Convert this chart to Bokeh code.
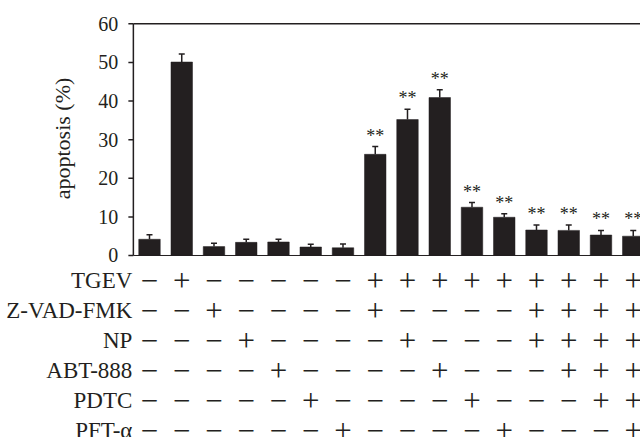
import math
from bokeh.plotting import figure
from bokeh.models import ColumnDataSource, Range1d, Whisker, TeeHead
from bokeh.core.properties import value
from bokeh.embed import file_html
from bokeh.resources import INLINE

# ---- data ----
apoptosis = [4.2, 50.1, 2.3, 3.4, 3.5, 2.2, 2.0, 26.2, 35.2, 40.9, 12.5, 9.9, 6.6, 6.5, 5.3, 5.0]
error = [1.2, 2.1, 0.9, 0.8, 0.7, 0.7, 1.0, 2.0, 2.7, 2.0, 1.2, 0.9, 1.3, 1.4, 1.2, 1.5]
significance = ["", "", "", "", "", "", "", "**", "**", "**", "**", "**", "**", "**", "**", "**"]
y_ticks = [0, 10, 20, 30, 40, 50, 60]
y_label = "apoptosis (%)"
treatments = ["TGEV", "Z-VAD-FMK", "NP", "ABT-888", "PDTC", "PFT-α"]
tgev      = ["−", "+", "−", "−", "−", "−", "−", "+", "+", "+", "+", "+", "+", "+", "+", "+"]
zvad_fmk  = ["−", "−", "+", "−", "−", "−", "−", "+", "−", "−", "−", "−", "+", "+", "+", "+"]
np_       = ["−", "−", "−", "+", "−", "−", "−", "−", "+", "−", "−", "−", "+", "+", "+", "+"]
abt_888   = ["−", "−", "−", "−", "+", "−", "−", "−", "−", "+", "−", "−", "−", "+", "+", "+"]
pdtc      = ["−", "−", "−", "−", "−", "+", "−", "−", "−", "−", "+", "−", "−", "−", "+", "+"]
pft_alpha = ["−", "−", "−", "−", "−", "−", "+", "−", "−", "−", "−", "+", "−", "−", "−", "+"]
sign_rows = [tgev, zvad_fmk, np_, abt_888, pdtc, pft_alpha]

INK = "#231f20"
SERIF = "Liberation Serif"

n = len(apoptosis)
xs = list(range(n))
upper = [v + e for v, e in zip(apoptosis, error)]
y_min, y_max = y_ticks[0], y_ticks[-1]
axis_x = -0.5          # left edge of the plotting area, in category units
x_end = n - 1 + 0.225  # chart is cut at the right edge as in the original

p = figure(width=640, height=437, output_backend="svg", toolbar_location=None,
           x_range=Range1d(-4.62, x_end), y_range=Range1d(-47.13, 66.03),
           x_axis_location=None, y_axis_location=None,
           min_border_left=0, min_border_right=0, min_border_top=0, min_border_bottom=0)
p.outline_line_color = None
p.grid.visible = False
p.background_fill_color = "white"
p.border_fill_color = "white"

# ---- hand-drawn axis frame ----
p.segment(x0=[axis_x], y0=[y_min], x1=[axis_x], y1=[y_max], line_color=INK, line_width=1.5)
p.segment(x0=[axis_x, axis_x], y0=[y_max, y_min], x1=[x_end, x_end], y1=[y_max, y_min],
          line_color=INK, line_width=[1.5, 1])
p.ray(x=[axis_x] * len(y_ticks), y=y_ticks, length=5, length_units="screen", angle=math.pi,
      line_color=INK, line_width=1.5)
p.text(x=[axis_x] * len(y_ticks), y=y_ticks, text=[str(t) for t in y_ticks], x_offset=-15,
       text_align="right", text_baseline="middle", text_font=value(SERIF),
       text_font_size="20px", text_color=INK)
p.text(x=[axis_x], y=[(y_min + y_max) / 2 + 0.3], text=[y_label], x_offset=-71, angle=math.pi / 2,
       text_align="center", text_baseline="middle", text_font=value(SERIF),
       text_font_size="22px", text_color=INK)

# ---- bars, error bars, significance ----
src = ColumnDataSource(dict(x=xs, top=apoptosis, upper=upper, sig=significance))
p.vbar(x="x", top="top", bottom=0, width=0.667, source=src,
       fill_color=INK, line_color=INK, line_width=0.5)
p.add_layout(Whisker(base="x", lower="top", upper="upper", source=src, dimension="height",
                     line_color=INK, line_width=1.5, lower_head=None,
                     upper_head=TeeHead(size=6, line_color=INK, line_width=1.5)))
p.text(x="x", y="upper", text="sig", source=src, text_align="center",
       text_baseline="alphabetic", y_offset=-11, text_font=value(SERIF),
       text_font_size="18px", text_color=INK)

# ---- treatment sign table ----
row_y = [-6.5 - 7.75 * i for i in range(len(treatments))]
tx, ty, tt = [], [], []
for yy, row in zip(row_y, sign_rows):
    for j, s in enumerate(row):
        tx.append(j)
        ty.append(yy)
        tt.append(s)
p.text(x=tx, y=ty, text=tt, text_align="center", text_baseline="middle",
       text_font=value(SERIF), text_font_size="31px", text_color=INK)

p.text(x=[axis_x] * len(treatments), y=row_y, text=treatments, x_offset=-1,
       text_align="right", text_baseline="middle",
       text_font=value(SERIF), text_font_size="23px", text_color=INK)

open("out.html", "w").write(file_html(p, INLINE))
